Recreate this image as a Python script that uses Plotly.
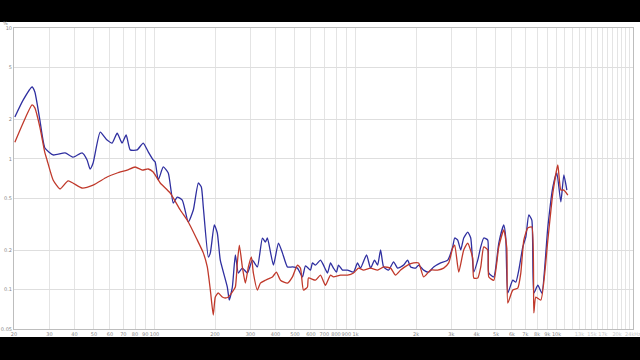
import plotly.graph_objects as go

# ---- data (frequency in Hz, distortion in %) ----
blue_freq = [20.2, 22.2, 24.6, 25.4, 26.9, 28.5, 31.3, 35.9, 39.4, 43.6, 46.2, 47.8, 49.5,
             53.7, 58.1, 61.6, 65.2, 69.0, 72.3, 75.7, 82.0, 87.9, 93.1, 98.5, 100.8, 104.4,
             110.6, 117.1, 124.0, 129.8, 137.5, 147.3, 156.0, 165.2, 171.0, 174.9, 185.3,
             189.6, 198.4, 205.3, 212.5, 230.3, 235.6, 244.0, 252.5, 261.3, 273.6, 289.8,
             306.9, 325.0, 344.2, 356.3, 364.6, 390.5, 413.6, 433.0, 458.6, 485.6, 514.2,
             544.6, 563.7, 596.9, 610.8, 632.2, 669.5, 692.9, 725.5, 750.9, 777.1, 804.2,
             823.0, 861.7, 912.6, 977.6, 1023, 1059, 1135, 1188, 1244, 1288, 1333, 1380,
             1461, 1547, 1620, 1677, 1736, 1817, 1881, 1991, 2061, 2183, 2312, 2448, 2653,
             2875, 3045, 3116, 3225, 3338, 3455, 3617, 3744, 3875, 4057, 4199, 4347, 4550,
             4604, 4875, 5163, 5467, 5594, 5724, 6062, 6274, 6494, 6798, 7036, 7282, 7538,
             7713, 8075, 8453, 9055, 9588, 10037, 10510, 10878, 11259]
blue_vals = [2.09, 2.81, 3.54, 3.24, 1.98, 1.21, 1.07, 1.11, 1.03, 1.11, 0.98, 0.836, 0.93,
             1.60, 1.39, 1.32, 1.57, 1.32, 1.52, 1.17, 1.17, 1.32, 1.13, 0.98, 0.945, 0.689,
             0.866, 0.779, 0.459, 0.510, 0.484, 0.329, 0.406, 0.653, 0.608, 0.428, 0.1775,
             0.191, 0.312, 0.271, 0.168, 0.1047, 0.0833, 0.1047, 0.184, 0.134, 0.146, 0.134,
             0.168, 0.149, 0.248, 0.231, 0.248, 0.154, 0.227, 0.191, 0.149, 0.149, 0.146,
             0.125, 0.152, 0.141, 0.160, 0.154, 0.168, 0.154, 0.134, 0.160, 0.146, 0.136,
             0.154, 0.141, 0.141, 0.136, 0.160, 0.146, 0.184, 0.146, 0.168, 0.154, 0.201, 0.149,
             0.141, 0.163, 0.146, 0.149, 0.154, 0.168, 0.149, 0.146, 0.154, 0.141, 0.136, 0.149, 0.160,
             0.168, 0.212, 0.248, 0.239, 0.201, 0.248, 0.275, 0.248, 0.136, 0.168, 0.212, 0.248, 0.239,
             0.134, 0.125, 0.227, 0.312, 0.248, 0.0942, 0.118, 0.114, 0.141, 0.212, 0.252, 0.372, 0.340,
             0.0942, 0.108, 0.0942, 0.301, 0.608, 0.779, 0.468, 0.752, 0.577]

red_freq = [20.2, 22.2, 24.6, 25.4, 26.9, 28.5, 29.2, 31.3, 33.9, 37.2, 43.6, 49.5, 58.1,
            65.2, 73.1, 80.1, 86.9, 93.1, 98.5, 104.4, 106.8, 119.8, 134.4, 147.3, 163.3,
            174.9, 183.1, 189.6, 196.1, 200.7, 207.6, 217.4, 225.0, 232.9, 244.0, 252.5,
            258.3, 264.3, 273.6, 283.2, 293.1, 303.4, 310.4, 325.0, 336.4, 356.3, 386.1,
            404.2, 423.2, 458.6, 485.6, 514.2, 532.2, 550.9, 576.8, 583.4, 632.2, 669.5,
            709.0, 750.9, 777.1, 842.1, 912.6, 977.6, 1035, 1096, 1188, 1288, 1380, 1495,
            1583, 1677, 1817, 1946, 2061, 2183, 2365, 2563, 2746, 2908, 3045, 3116, 3263,
            3455, 3617, 3831, 3875, 4057, 4199, 4347, 4550, 4604, 4875, 5163, 5467, 5659,
            5724, 6062, 6419, 6644, 6877, 7199, 7538, 7713, 7892, 8357, 9055, 9588, 10152,
            10510, 10878, 11389]
red_vals = [1.34, 1.88, 2.58, 2.45, 1.75, 1.11, 0.98, 0.689, 0.588, 0.677, 0.598, 0.630, 0.726,
            0.779, 0.821, 0.866, 0.821, 0.836, 0.793, 0.689, 0.653, 0.547, 0.406, 0.329, 0.239,
            0.191, 0.149, 0.0993, 0.064, 0.0878, 0.0942, 0.0878, 0.0863, 0.0878, 0.0959, 0.1047,
            0.160, 0.219, 0.149, 0.112, 0.149, 0.1775, 0.134, 0.0993, 0.112, 0.118, 0.125,
            0.136, 0.118, 0.112, 0.125, 0.154, 0.146, 0.0993, 0.1047, 0.1227, 0.118, 0.129,
            0.108, 0.129, 0.125, 0.129, 0.129, 0.134, 0.146, 0.141, 0.146, 0.141, 0.149, 0.146,
            0.129, 0.141, 0.154, 0.160, 0.160, 0.125, 0.141, 0.141, 0.146, 0.160, 0.208, 0.219, 0.136,
            0.201, 0.227, 0.174, 0.1227, 0.1227, 0.149, 0.212, 0.201, 0.125, 0.118, 0.212, 0.286, 0.208,
            0.079, 0.0993, 0.1028, 0.134, 0.239, 0.296, 0.301, 0.0663, 0.0878, 0.0833, 0.239, 0.547, 0.897,
            0.577, 0.577, 0.528]

x_tickvals = [20, 30, 40, 50, 60, 70, 80, 90, 100, 200, 300, 400, 500, 600, 700, 800, 900,
              1000, 2000, 3000, 4000, 5000, 6000, 7000, 8000, 9000, 10000, 11000, 12000,
              13000, 14000, 15000, 16000, 17000, 18000, 19000, 20000, 21000, 22000, 23000, 24000]
x_ticklabels = ["20", "30", "40", "50", "60", "70", "80", "90", "100", "200", "300", "400",
                "500", "600", "700", "800", "900", "1k", "2k", "3k", "4k", "5k", "6k", "7k",
                "8k", "9k", "10k", "", "", "13k", "", "15k", "", "17k", "", "", "20k", "", "", "",
                "24kHz"]
faded_labels = ["13k", "15k", "17k", "20k", "24kHz"]
y_tickvals = [0.05, 0.1, 0.2, 0.5, 1, 2, 5, 10]
y_ticklabels = ["0.05", "0.1", "0.2", "0.5", "1", "2", "5", "10"]
decade_lines = [100, 1000, 10000]

x_text = [f'<span style="color:#c8c8c8">{t}</span>' if t in faded_labels else t
          for t in x_ticklabels]

fig = go.Figure()
fig.add_trace(go.Scatter(x=blue_freq, y=blue_vals, mode="lines",
                         line=dict(color="#2f2fa0", width=1.3, shape="spline", smoothing=0.5),
                         showlegend=False, hoverinfo="skip"))
fig.add_trace(go.Scatter(x=red_freq, y=red_vals, mode="lines",
                         line=dict(color="#c0392b", width=1.3, shape="spline", smoothing=0.5),
                         showlegend=False, hoverinfo="skip"))

# darker decade grid lines
for d in decade_lines:
    fig.add_shape(type="line", xref="x", yref="paper", x0=d, x1=d, y0=0, y1=1,
                  line=dict(color="#c4c4c4", width=1), layer="below")

# white page band between black letterbox bars
fig.add_shape(type="rect", xref="paper", yref="paper", x0=-0.03, x1=1.03,
              y0=-0.0266, y1=1.0199, fillcolor="white", line=dict(width=0), layer="below")

fig.add_annotation(text="%", xref="paper", yref="paper", x=-0.006, y=1.0, yanchor="bottom",
                   xanchor="right", showarrow=False, font=dict(size=5, color="#888888"))

fig.update_layout(
    width=640, height=360,
    margin=dict(l=14, r=7, t=28, b=31),
    paper_bgcolor="black", plot_bgcolor="white",
    font=dict(family="DejaVu Sans", size=5, color="#888888"),
    xaxis=dict(type="log", range=[1.30103, 4.3806], tickvals=x_tickvals, ticktext=x_text,
               showgrid=True, gridcolor="#e4e4e4", gridwidth=1, zeroline=False,
               showline=True, linecolor="#bdbdbd", linewidth=1, mirror=True, automargin=False,
               ticklabeloverflow="allow",
               ticks="", tickfont=dict(size=5, color="#888888"), tickangle=0),
    yaxis=dict(type="log", range=[-1.30103, 1], tickvals=y_tickvals, ticktext=y_ticklabels,
               showgrid=True, gridcolor="#dedede", gridwidth=1, zeroline=False,
               showline=True, linecolor="#bdbdbd", linewidth=1, mirror=True, automargin=False,
               ticks="", tickfont=dict(size=5, color="#888888")),
)

fig.write_html("out.html")
